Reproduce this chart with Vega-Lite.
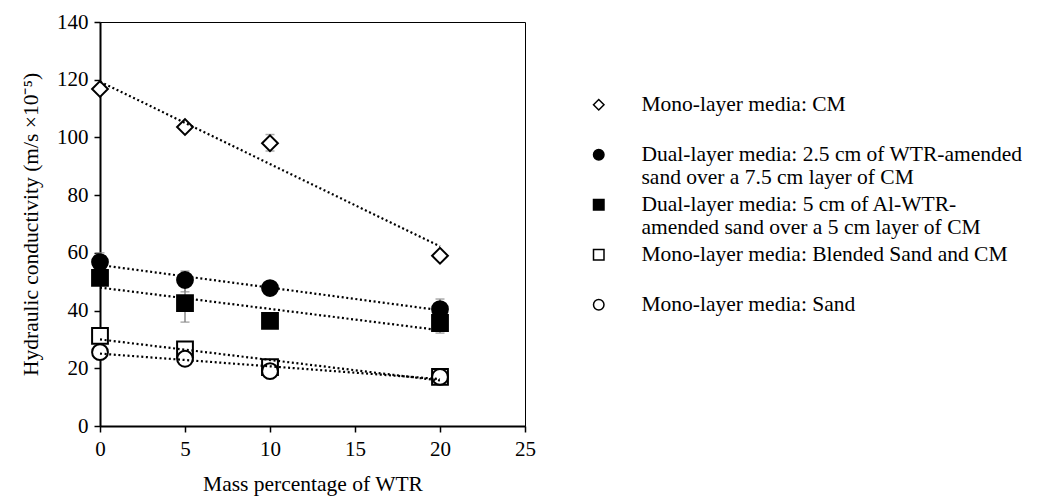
{
  "$schema": "https://vega.github.io/schema/vega-lite/v6.json",
  "width": 425,
  "height": 404,
  "autosize": {"type": "none"},
  "padding": {"left": 100, "top": 22, "right": 530, "bottom": 78},
  "background": "white",
  "config": {
    "font": "Liberation Serif",
    "view": {"stroke": "#000", "strokeWidth": 1},
    "axis": {
      "grid": false,
      "labelFlush": false,
      "domainColor": "#000",
      "domainWidth": 2,
      "tickColor": "#000",
      "tickWidth": 1.5,
      "tickSize": 6,
      "labelColor": "#000",
      "labelFontSize": 21,
      "labelFont": "Liberation Serif",
      "titleFont": "Liberation Serif",
      "titleFontSize": 21.5,
      "titleFontWeight": "normal",
      "titleColor": "#000"
    },
    "legend": {
      "labelFont": "Liberation Serif",
      "labelFontSize": 21.5,
      "labelColor": "#000"
    }
  },
  "datasets": {
    "pts": [
      {"series": "Mono-layer media: CM", "wtr": 0, "k": 116.8},
      {"series": "Mono-layer media: CM", "wtr": 5, "k": 103.6},
      {"series": "Mono-layer media: CM", "wtr": 10, "k": 98},
      {"series": "Mono-layer media: CM", "wtr": 20, "k": 59},
      {"series": "Dual-layer media: 2.5 cm of WTR-amended sand over a 7.5 cm layer of CM", "wtr": 0, "k": 56.8},
      {"series": "Dual-layer media: 2.5 cm of WTR-amended sand over a 7.5 cm layer of CM", "wtr": 5, "k": 50.6},
      {"series": "Dual-layer media: 2.5 cm of WTR-amended sand over a 7.5 cm layer of CM", "wtr": 10, "k": 47.8},
      {"series": "Dual-layer media: 2.5 cm of WTR-amended sand over a 7.5 cm layer of CM", "wtr": 20, "k": 40.5},
      {"series": "Dual-layer media: 5 cm of Al-WTR-amended sand over a 5 cm layer of CM", "wtr": 0, "k": 51.3},
      {"series": "Dual-layer media: 5 cm of Al-WTR-amended sand over a 5 cm layer of CM", "wtr": 5, "k": 42.6},
      {"series": "Dual-layer media: 5 cm of Al-WTR-amended sand over a 5 cm layer of CM", "wtr": 10, "k": 36.4},
      {"series": "Dual-layer media: 5 cm of Al-WTR-amended sand over a 5 cm layer of CM", "wtr": 20, "k": 35.7},
      {"series": "Mono-layer media: Blended Sand and CM", "wtr": 0, "k": 31.2},
      {"series": "Mono-layer media: Blended Sand and CM", "wtr": 5, "k": 26.5},
      {"series": "Mono-layer media: Blended Sand and CM", "wtr": 10, "k": 20.4},
      {"series": "Mono-layer media: Blended Sand and CM", "wtr": 20, "k": 17},
      {"series": "Mono-layer media: Sand", "wtr": 0, "k": 25.6},
      {"series": "Mono-layer media: Sand", "wtr": 5, "k": 23.3},
      {"series": "Mono-layer media: Sand", "wtr": 10, "k": 19},
      {"series": "Mono-layer media: Sand", "wtr": 20, "k": 17}
    ],
    "err": [
      {"wtr": 10, "lo": 95.3, "hi": 101},
      {"wtr": 0, "lo": 55, "hi": 60},
      {"wtr": 5, "lo": 46.5, "hi": 53.7},
      {"wtr": 20, "lo": 37, "hi": 44},
      {"wtr": 5, "lo": 36, "hi": 49},
      {"wtr": 20, "lo": 32.2, "hi": 39},
      {"wtr": 20, "lo": 15.8, "hi": 18.2}
    ]
  },
  "layer": [
    {
      "data": {"name": "err"},
      "mark": {"type": "rule", "color": "#888", "strokeWidth": 1.5},
      "encoding": {
        "x": {"field": "wtr", "type": "quantitative"},
        "y": {"field": "lo", "type": "quantitative"},
        "y2": {"field": "hi"}
      }
    },
    {
      "data": {"name": "err"},
      "mark": {"type": "tick", "color": "#888", "orient": "horizontal", "size": 9, "thickness": 1.5},
      "encoding": {
        "x": {"field": "wtr", "type": "quantitative"},
        "y": {"field": "lo", "type": "quantitative"}
      }
    },
    {
      "data": {"name": "err"},
      "mark": {"type": "tick", "color": "#888", "orient": "horizontal", "size": 9, "thickness": 1.5},
      "encoding": {
        "x": {"field": "wtr", "type": "quantitative"},
        "y": {"field": "hi", "type": "quantitative"}
      }
    },
    {
      "data": {"name": "pts"},
      "mark": {"type": "point", "size": 250, "stroke": "#000", "strokeWidth": 2, "opacity": 1, "fillOpacity": 1},
      "encoding": {
        "x": {
          "field": "wtr", "type": "quantitative",
          "scale": {"domain": [0, 25], "nice": false, "zero": false},
          "axis": {"values": [0, 5, 10, 15, 20, 25], "title": "Mass percentage of WTR", "titlePadding": 14, "labelPadding": 6}
        },
        "y": {
          "field": "k", "type": "quantitative",
          "scale": {"domain": [0, 140], "nice": false},
          "axis": {"values": [0, 20, 40, 60, 80, 100, 120, 140], "title": "Hydraulic conductivity (m/s ×10⁻⁵)", "titlePadding": 14, "labelPadding": 6}
        },
        "shape": {
          "field": "series", "type": "nominal",
          "scale": {
            "domain": [
              "Mono-layer media: CM",
              "Dual-layer media: 2.5 cm of WTR-amended sand over a 7.5 cm layer of CM",
              "Dual-layer media: 5 cm of Al-WTR-amended sand over a 5 cm layer of CM",
              "Mono-layer media: Blended Sand and CM",
              "Mono-layer media: Sand"
            ],
            "range": ["diamond", "circle", "square", "square", "circle"]
          },
          "legend": {
            "title": null,
            "orient": "none",
            "legendX": 488,
            "legendY": 72,
            "padding": 0,
            "symbolSize": 110,
            "labelOffset": 32,
            "labelLimit": 500,
            "rowPadding": 4,
            "labelExpr": "datum.label == 'Dual-layer media: 2.5 cm of WTR-amended sand over a 7.5 cm layer of CM' ? ['Dual-layer media: 2.5 cm of WTR-amended', 'sand over a 7.5 cm layer of CM'] : datum.label == 'Dual-layer media: 5 cm of Al-WTR-amended sand over a 5 cm layer of CM' ? ['Dual-layer media: 5 cm of Al-WTR-', 'amended sand over a 5 cm layer of CM'] : [datum.label, ' ']",
            "encode": {
              "symbols": {"update": {"stroke": {"value": "#000"}, "strokeWidth": {"value": 2}}}
            }
          }
        },
        "fill": {
          "field": "series", "type": "nominal",
          "scale": {
            "domain": [
              "Mono-layer media: CM",
              "Dual-layer media: 2.5 cm of WTR-amended sand over a 7.5 cm layer of CM",
              "Dual-layer media: 5 cm of Al-WTR-amended sand over a 5 cm layer of CM",
              "Mono-layer media: Blended Sand and CM",
              "Mono-layer media: Sand"
            ],
            "range": ["#fff", "#000", "#000", "#fff", "#fff"]
          },
          "legend": {
            "title": null,
            "orient": "none",
            "legendX": 488,
            "legendY": 72,
            "padding": 0,
            "symbolSize": 110,
            "labelOffset": 32,
            "labelLimit": 500,
            "rowPadding": 4,
            "labelExpr": "datum.label == 'Dual-layer media: 2.5 cm of WTR-amended sand over a 7.5 cm layer of CM' ? ['Dual-layer media: 2.5 cm of WTR-amended', 'sand over a 7.5 cm layer of CM'] : datum.label == 'Dual-layer media: 5 cm of Al-WTR-amended sand over a 5 cm layer of CM' ? ['Dual-layer media: 5 cm of Al-WTR-', 'amended sand over a 5 cm layer of CM'] : [datum.label, ' ']",
            "encode": {
              "symbols": {"update": {"stroke": {"value": "#000"}, "strokeWidth": {"value": 2}}}
            }
          }
        }
      }
    },
    {
      "data": {"name": "pts"},
      "transform": [
        {"regression": "k", "on": "wtr", "groupby": ["series"], "extent": [0, 20]}
      ],
      "mark": {"type": "line", "color": "#000", "strokeWidth": 2.2, "strokeDash": [2, 2.6]},
      "encoding": {
        "x": {"field": "wtr", "type": "quantitative"},
        "y": {"field": "k", "type": "quantitative"},
        "detail": {"field": "series", "type": "nominal"}
      }
    }
  ]
}
